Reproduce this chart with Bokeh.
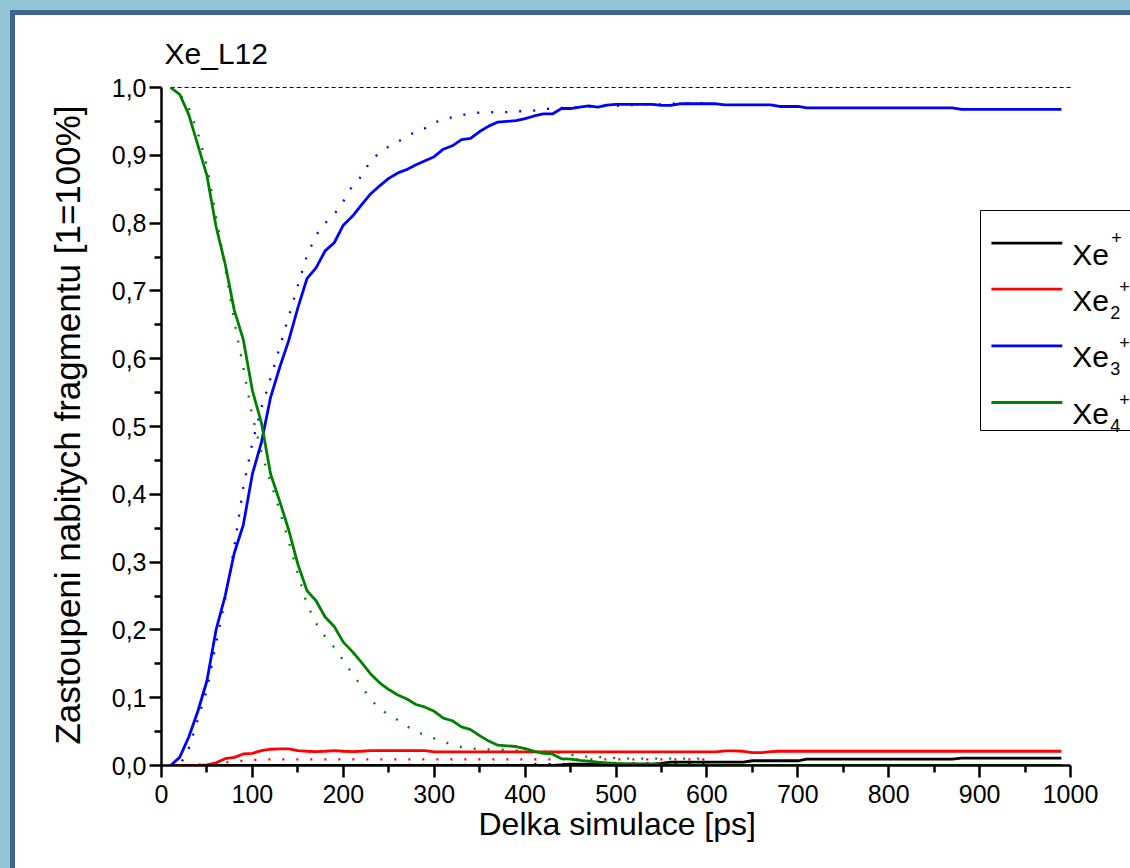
from bokeh.plotting import figure
from bokeh.models import Range1d, FixedTicker, Label, BoxAnnotation, Title, GlobalInlineStyleSheet
from bokeh.embed import file_html
from bokeh.resources import INLINE

# ---------------- data ----------------
time_ps = [10, 20, 30, 40, 50, 60, 70, 80, 90, 100,
           110, 120, 130, 140, 150, 160, 170, 180, 190, 200,
           210, 220, 230, 240, 250, 260, 270, 280, 290, 300,
           310, 320, 330, 340, 350, 360, 370, 380, 390, 400,
           410, 420, 430, 440, 450, 460, 470, 480, 490, 500,
           510, 520, 530, 540, 550, 560, 570, 580, 590, 600,
           610, 620, 630, 640, 650, 660, 670, 680, 690, 700,
           710, 720, 730, 740, 750, 760, 770, 780, 790, 800,
           810, 820, 830, 840, 850, 860, 870, 880, 890, 900,
           910, 920, 930, 940, 950, 960, 970, 980, 990]

xe1 = [0, 0, 0, 0, 0, 0, 0, 0, 0, 0,
       0, 0, 0, 0, 0, 0, 0, 0, 0, 0,
       0, 0, 0, 0, 0, 0, 0, 0, 0, 0,
       0, 0, 0, 0, 0, 0, 0, 0, 0, 0,
       0, 0, 0, 0.001, 0.002, 0.002, 0.002, 0.002, 0.002, 0.002,
       0.002, 0.002, 0.002, 0.002, 0.003, 0.005, 0.005, 0.005, 0.005, 0.005,
       0.005, 0.005, 0.005, 0.005, 0.007, 0.007, 0.007, 0.007, 0.007, 0.007,
       0.0095, 0.0095, 0.0095, 0.0095, 0.0095, 0.0095, 0.0095, 0.0095, 0.0095, 0.0095,
       0.0095, 0.0095, 0.0095, 0.0095, 0.0095, 0.0095, 0.0095, 0.011, 0.011, 0.011,
       0.011, 0.011, 0.011, 0.011, 0.011, 0.011, 0.011, 0.011, 0.011]

xe2 = [0, 0, 0, 0, 0.001, 0.004, 0.01, 0.012, 0.017, 0.018,
       0.022, 0.024, 0.0245, 0.0245, 0.022, 0.021, 0.0205, 0.021, 0.022, 0.021,
       0.0205, 0.021, 0.022, 0.022, 0.022, 0.022, 0.022, 0.022, 0.022, 0.02,
       0.02, 0.02, 0.02, 0.02, 0.02, 0.02, 0.02, 0.02, 0.02, 0.02,
       0.02, 0.02, 0.02, 0.02, 0.02, 0.02, 0.02, 0.02, 0.02, 0.02,
       0.02, 0.02, 0.02, 0.02, 0.02, 0.02, 0.02, 0.02, 0.02, 0.02,
       0.02, 0.0215, 0.0215, 0.021, 0.019, 0.019, 0.0205, 0.021, 0.021, 0.021,
       0.021, 0.021, 0.021, 0.021, 0.021, 0.021, 0.021, 0.021, 0.021, 0.021,
       0.021, 0.021, 0.021, 0.021, 0.021, 0.021, 0.021, 0.021, 0.021, 0.021,
       0.021, 0.021, 0.021, 0.021, 0.021, 0.021, 0.021, 0.021, 0.021]

xe3 = [0.0, 0.012, 0.042, 0.08, 0.125, 0.2, 0.25, 0.313, 0.355, 0.43,
       0.477, 0.543, 0.587, 0.627, 0.675, 0.718, 0.734, 0.759, 0.771, 0.797,
       0.81, 0.827, 0.843, 0.855, 0.866, 0.874, 0.879, 0.886, 0.892, 0.898,
       0.909, 0.914, 0.923, 0.925, 0.935, 0.943, 0.949, 0.95, 0.951, 0.954,
       0.958, 0.961, 0.961, 0.969, 0.969, 0.971, 0.973, 0.971, 0.974, 0.975,
       0.975, 0.975, 0.975, 0.975, 0.9735, 0.9735, 0.976, 0.976, 0.976, 0.976,
       0.976, 0.9745, 0.9745, 0.9745, 0.9745, 0.9745, 0.9745, 0.972, 0.972, 0.972,
       0.97, 0.97, 0.97, 0.97, 0.97, 0.97, 0.97, 0.97, 0.97, 0.97,
       0.97, 0.97, 0.97, 0.97, 0.97, 0.97, 0.97, 0.9676, 0.9676, 0.9676,
       0.9676, 0.9676, 0.9676, 0.9676, 0.9676, 0.9676, 0.9676, 0.9676, 0.9676]

xe4 = [1.0, 0.99, 0.96, 0.915, 0.87, 0.795, 0.74, 0.672, 0.628, 0.553,
       0.505, 0.43, 0.39, 0.347, 0.297, 0.258, 0.243, 0.219, 0.205, 0.182,
       0.168, 0.152, 0.135, 0.122, 0.112, 0.104, 0.098, 0.09, 0.086, 0.08,
       0.07, 0.066, 0.057, 0.053, 0.044, 0.036, 0.03, 0.029, 0.028, 0.025,
       0.021, 0.018, 0.017, 0.01, 0.0095, 0.0075, 0.0065, 0.005, 0.004, 0.003,
       0.0025, 0.0025, 0.002, 0.002, 0.001, 0.001, 0, 0, 0, 0,
       0, 0, 0, 0, 0, 0, 0, 0, 0, 0,
       0, 0, 0, 0, 0, 0, 0, 0, 0, 0,
       0, 0, 0, 0, 0, 0, 0, 0, 0, 0,
       0, 0, 0, 0, 0, 0, 0, 0, 0]

# model (dotted) curves
time_fit = [10, 20, 30, 40, 50, 60, 70, 80, 90, 100,
            110, 120, 130, 140, 150, 160, 170, 180, 190, 200,
            210, 220, 230, 240, 250, 260, 270, 280, 290, 300,
            310, 320, 330, 340, 350, 360, 370, 380, 390, 400,
            410, 420, 430, 440, 450, 460, 470, 480, 490, 500,
            510, 520, 530, 540, 550, 560, 570, 580, 590, 600]

fit1 = [0, 0, 0, 0, 0, 0, 0, 0, 0, 0,
        0, 0, 0, 0, 0, 0, 0, 0, 0, 0,
        0, 0, 0, 0, 0, 0.001, 0.001, 0.001, 0.001, 0.001,
        0.001, 0.001, 0.001, 0.001, 0.001, 0.001, 0.001, 0.001, 0.001, 0.001,
        0.002, 0.002, 0.002, 0.002, 0.002, 0.002, 0.002, 0.002, 0.002, 0.002,
        0.003, 0.003, 0.003, 0.003, 0.003, 0.003, 0.003, 0.003, 0.003, 0.003]

fit2 = [0, 0, 0.0005, 0.001, 0.002, 0.003, 0.0045, 0.006, 0.007, 0.008,
        0.009, 0.009, 0.009, 0.009, 0.009, 0.009, 0.009, 0.009, 0.009, 0.009,
        0.009, 0.009, 0.009, 0.009, 0.009, 0.009, 0.009, 0.009, 0.009, 0.009,
        0.009, 0.009, 0.009, 0.009, 0.009, 0.009, 0.009, 0.009, 0.009, 0.009,
        0.009, 0.009, 0.009, 0.009, 0.009, 0.009, 0.009, 0.009, 0.009, 0.009,
        0.009, 0.009, 0.009, 0.009, 0.009, 0.009, 0.009, 0.009, 0.009, 0.009]

fit3 = [0.0, 0.0, 0.025, 0.068, 0.112, 0.18, 0.245, 0.322, 0.41, 0.476,
        0.528, 0.571, 0.617, 0.662, 0.708, 0.752, 0.782, 0.8, 0.813, 0.832,
        0.855, 0.869, 0.892, 0.904, 0.913, 0.92, 0.928, 0.935, 0.94, 0.948,
        0.953, 0.956, 0.959, 0.962, 0.963, 0.9635, 0.9636, 0.9636, 0.965, 0.965,
        0.966, 0.968, 0.969, 0.97, 0.97, 0.971, 0.972, 0.972, 0.973, 0.973,
        0.974, 0.974, 0.975, 0.975, 0.975, 0.976, 0.976, 0.977, 0.977, 0.977]

fit4 = [1.0, 0.99, 0.97, 0.933, 0.884, 0.81, 0.735, 0.656, 0.587, 0.515,
        0.462, 0.418, 0.376, 0.33, 0.283, 0.238, 0.21, 0.19, 0.174, 0.155,
        0.135, 0.117, 0.098, 0.083, 0.075, 0.067, 0.058, 0.05, 0.045, 0.04,
        0.035, 0.031, 0.027, 0.0255, 0.024, 0.0236, 0.0236, 0.023, 0.022, 0.0215,
        0.021, 0.0205, 0.0196, 0.018, 0.016, 0.0135, 0.013, 0.0125, 0.012, 0.011,
        0.0105, 0.01, 0.01, 0.01, 0.01, 0.01, 0.01, 0.01, 0.01, 0.01]

# 100 % reference line
ref_x = [10, 1000]
ref_y = [1.0, 1.0]

x_ticks = [0, 100, 200, 300, 400, 500, 600, 700, 800, 900, 1000]
x_minor = [50, 150, 250, 350, 450, 550, 650, 750, 850, 950]
y_ticks = [0.0, 0.1, 0.2, 0.3, 0.4, 0.5, 0.6, 0.7, 0.8, 0.9, 1.0]
y_minor = [0.05, 0.15, 0.25, 0.35, 0.45, 0.55, 0.65, 0.75, 0.85, 0.95]
y_tick_labels = ["0,0", "0,1", "0,2", "0,3", "0,4", "0,5", "0,6", "0,7", "0,8", "0,9", "1,0"]

series_colors = ["#000000", "#ff0000", "#0000ff", "#008000"]
legend_subs = ["", "2", "3", "4"]

# ---------------- figure ----------------
FONT = "Liberation Sans"
PX_PER_X = 0.909      # pixels per ps
PX_PER_Y = 678.0      # pixels per unit fraction
CANVAS_W, CANVAS_H = 1130, 868
PAD_TOP_PX = 3        # a little room above 1,0 so the 100 % line is not clipped
LEFT, TOP, BOTTOM = 161, 87 - PAD_TOP_PX, 103
x_end = (CANVAS_W - LEFT) / PX_PER_X   # frame reaches the right edge; axis stops at 1000
y_end = 1.0 + PAD_TOP_PX / PX_PER_Y

p = figure(width=CANVAS_W, height=CANVAS_H,
           x_range=Range1d(0, x_end), y_range=Range1d(0, y_end),
           output_backend="svg", toolbar_location=None,
           min_border_left=LEFT, min_border_right=0,
           min_border_top=TOP, min_border_bottom=BOTTOM,
           background_fill_color="white", border_fill_color=None,
           outline_line_color=None)

BG = ("linear-gradient(#3e6391, #3e6391) 10px 10px / 5px 100% no-repeat, "
      "linear-gradient(#3e6391, #3e6391) 10px 10px / 100% 5px no-repeat, "
      "linear-gradient(#ffffff, #ffffff) 15px 15px / 100% 100% no-repeat, "
      "#93c6d4")
p.stylesheets = [GlobalInlineStyleSheet(
    css="html, body { margin: 0; padding: 0; overflow: hidden; background: #93c6d4; }")]
p.styles = {"background": BG}

p.title.text = "Xe_L12"
p.title.text_font = FONT
p.title.text_font_size = "30px"
p.title.text_font_style = "normal"
p.title.text_color = "black"
p.title.align = "left"
p.title.offset = 3
p.title.standoff = 30

p.xgrid.visible = False
p.ygrid.visible = False

p.xaxis.ticker = FixedTicker(ticks=x_ticks, minor_ticks=x_minor)
p.xaxis.bounds = (0, 1000)
p.yaxis.ticker = FixedTicker(ticks=y_ticks, minor_ticks=y_minor)
p.yaxis.bounds = (0, 1.0)
p.yaxis.major_label_overrides = {t: l for t, l in zip(y_ticks, y_tick_labels)}

p.yaxis.axis_label = "Zastoupeni nabitych fragmentu [1=100%]"

for ax in (p.xaxis[0], p.yaxis[0]):
    ax.axis_line_width = 2.5
    ax.axis_line_color = "black"
    ax.major_tick_line_width = 2.5
    ax.minor_tick_line_width = 2.5
    ax.major_tick_in = 0
    ax.major_tick_out = 12
    ax.minor_tick_in = 0
    ax.minor_tick_out = 7
    ax.major_label_text_font = FONT
    ax.major_label_text_font_size = "25px"
    ax.major_label_text_color = "black"
    ax.axis_label_text_font = FONT
    ax.axis_label_text_font_style = "normal"
    ax.axis_label_text_color = "black"

p.xaxis.major_label_standoff = 7
p.yaxis.major_label_standoff = 3
p.yaxis.axis_label_standoff = 22
p.yaxis.axis_label_text_font_size = "35px"

# x-axis title, centred under the 0..1000 axis (not under the whole frame)
p.add_layout(Title(text="Delka simulace [ps]", align="left", offset=317,
                   text_font=FONT, text_font_size="32px", text_font_style="normal",
                   text_color="black", standoff=-4), "below")

# reference line at 100 %
p.line(ref_x, ref_y, line_color="black", line_width=1.2, line_dash="4 3")

# dotted model curves
for fit, col in zip([fit1, fit2, fit3, fit4], series_colors):
    p.line(time_fit, fit, line_color=col, line_width=2.3, line_dash="2 12")

# solid simulation curves
for ser, col in zip([xe1, xe2, xe3, xe4], series_colors):
    p.line(time_ps, ser, line_color=col, line_width=2.8)

# ---------------- legend (drawn by hand for stacked sub/superscripts) ----------------
leg_left, leg_right, leg_top, leg_bottom = 901, 1200, 0.8186, 0.4941
leg_line_x = [913, 991]
leg_line_y = [0.7704, 0.7025, 0.619, 0.5354]
leg_text_x = 1002

p.add_layout(BoxAnnotation(left=leg_left, right=leg_right, top=leg_top, bottom=leg_bottom,
                           fill_color="white", fill_alpha=1.0,
                           line_color="black", line_alpha=1.0, line_width=1,
                           level="underlay"))

dy = 1.0 / PX_PER_Y
dx = 1.0 / PX_PER_X
for i, (col, sub) in enumerate(zip(series_colors, legend_subs)):
    ly = leg_line_y[i]
    p.line(leg_line_x, [ly, ly], line_color=col, line_width=2.8)
    base = ly - 11 * dy
    p.add_layout(Label(x=leg_text_x, y=base, text="Xe", text_font=FONT,
                       text_font_size="30px", text_color="black",
                       text_baseline="alphabetic"))
    if sub:
        p.add_layout(Label(x=leg_text_x + 38 * dx, y=base - 12 * dy, text=sub,
                           text_font=FONT, text_font_size="18px", text_color="black",
                           text_baseline="alphabetic"))
        p.add_layout(Label(x=leg_text_x + 47 * dx, y=base + 14 * dy, text="+",
                           text_font=FONT, text_font_size="18px", text_color="black",
                           text_baseline="alphabetic"))
    else:
        p.add_layout(Label(x=leg_text_x + 39 * dx, y=base + 17 * dy, text="+",
                           text_font=FONT, text_font_size="18px", text_color="black",
                           text_baseline="alphabetic"))

open("out.html", "w").write(file_html(p, INLINE))
